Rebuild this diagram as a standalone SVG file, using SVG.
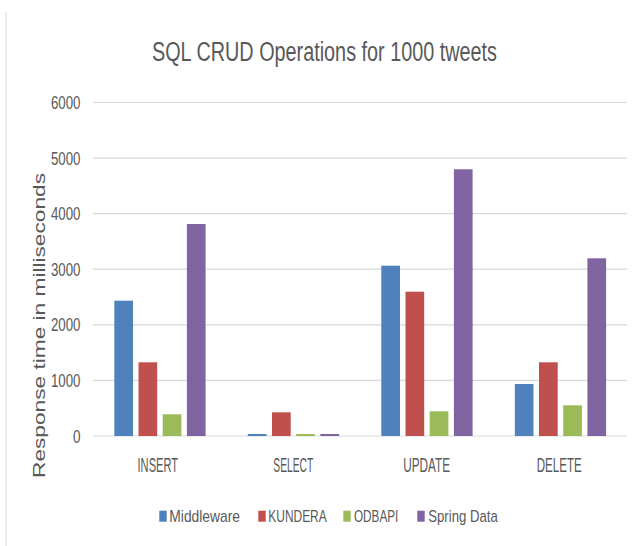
<svg xmlns="http://www.w3.org/2000/svg" width="639" height="546" viewBox="0 0 639 546">
<style>
text{font-family:"Liberation Sans",Arial,sans-serif;fill:#595959}
.grid{stroke:#D9D9D9;stroke-width:1.2;fill:none}
.tick{font-size:17.7px}
.cat{font-size:19.5px}
.leg{font-size:17px}
.b1{fill:#4F81BD}.b2{fill:#C0504D}.b3{fill:#9BBB59}.b4{fill:#8064A2}
</style>
<rect width="639" height="546" fill="#fff"/>
<line x1="6" y1="12" x2="6" y2="546" stroke="#D9D9D9" stroke-width="1"/>
<g id="title">
<text x="152" y="61" font-size="27" textLength="345" lengthAdjust="spacingAndGlyphs">SQL CRUD Operations for 1000 tweets</text>
</g>
<g id="gridlines">
<line class="grid" x1="93" y1="102.5" x2="627" y2="102.5"/>
<line class="grid" x1="93" y1="158.1" x2="627" y2="158.1"/>
<line class="grid" x1="93" y1="213.7" x2="627" y2="213.7"/>
<line class="grid" x1="93" y1="269.2" x2="627" y2="269.2"/>
<line class="grid" x1="93" y1="324.8" x2="627" y2="324.8"/>
<line class="grid" x1="93" y1="380.4" x2="627" y2="380.4"/>
<line class="grid" x1="93" y1="436" x2="627" y2="436"/>
</g>
<g id="y-axis">
<text class="tick" x="51" y="109" textLength="29.5" lengthAdjust="spacingAndGlyphs">6000</text>
<text class="tick" x="51" y="164.6" textLength="29.5" lengthAdjust="spacingAndGlyphs">5000</text>
<text class="tick" x="51" y="220.2" textLength="29.5" lengthAdjust="spacingAndGlyphs">4000</text>
<text class="tick" x="51" y="275.7" textLength="29.5" lengthAdjust="spacingAndGlyphs">3000</text>
<text class="tick" x="51" y="331.3" textLength="29.5" lengthAdjust="spacingAndGlyphs">2000</text>
<text class="tick" x="51" y="386.9" textLength="29.5" lengthAdjust="spacingAndGlyphs">1000</text>
<text class="tick" x="73" y="442.5" textLength="7.5" lengthAdjust="spacingAndGlyphs">0</text>
<text transform="translate(45,478) rotate(-90)" font-size="16.3" textLength="305" lengthAdjust="spacingAndGlyphs">Response time in milliseconds</text>
</g>
<g id="series-middleware">
<rect class="b1" x="114.3" y="300.7" width="18.7" height="135.3"/>
<rect class="b1" x="247.8" y="434" width="18.7" height="2"/>
<rect class="b1" x="381.3" y="265.7" width="18.7" height="170.3"/>
<rect class="b1" x="514.8" y="384" width="18.7" height="52"/>
</g>
<g id="series-kundera">
<rect class="b2" x="138.5" y="362.3" width="18.7" height="73.7"/>
<rect class="b2" x="272" y="412.3" width="18.7" height="23.7"/>
<rect class="b2" x="405.5" y="291.7" width="18.7" height="144.3"/>
<rect class="b2" x="539" y="362.3" width="18.7" height="73.7"/>
</g>
<g id="series-odbapi">
<rect class="b3" x="162.7" y="414.3" width="18.7" height="21.7"/>
<rect class="b3" x="296.2" y="434" width="18.7" height="2"/>
<rect class="b3" x="429.7" y="411.3" width="18.7" height="24.7"/>
<rect class="b3" x="563.2" y="405.3" width="18.7" height="30.7"/>
</g>
<g id="series-springdata">
<rect class="b4" x="186.9" y="224" width="18.7" height="212"/>
<rect class="b4" x="320.4" y="434" width="18.7" height="2"/>
<rect class="b4" x="453.9" y="169.3" width="18.7" height="266.7"/>
<rect class="b4" x="587.4" y="258.3" width="18.7" height="177.7"/>
</g>
<g id="categories">
<text class="cat" x="137.5" y="472.3" textLength="40.6" lengthAdjust="spacingAndGlyphs">INSERT</text>
<text class="cat" x="273.3" y="472.3" textLength="40" lengthAdjust="spacingAndGlyphs">SELECT</text>
<text class="cat" x="403.3" y="472.3" textLength="46.7" lengthAdjust="spacingAndGlyphs">UPDATE</text>
<text class="cat" x="536.7" y="472.3" textLength="45" lengthAdjust="spacingAndGlyphs">DELETE</text>
</g>
<g id="legend">
<rect class="b1" x="159.3" y="510.7" width="7.4" height="11"/>
<text class="leg" x="169.3" y="522.3" textLength="70.7" lengthAdjust="spacingAndGlyphs">Middleware</text>
<rect class="b2" x="258.3" y="510.7" width="7.4" height="11"/>
<text class="leg" x="268.3" y="522.3" textLength="58.4" lengthAdjust="spacingAndGlyphs">KUNDERA</text>
<rect class="b3" x="343.3" y="510.7" width="7.4" height="11"/>
<text class="leg" x="354" y="522.3" textLength="44.3" lengthAdjust="spacingAndGlyphs">ODBAPI</text>
<rect class="b4" x="417.3" y="510.7" width="7.4" height="11"/>
<text class="leg" x="428.3" y="522.3" textLength="69.4" lengthAdjust="spacingAndGlyphs">Spring Data</text>
</g>
</svg>
